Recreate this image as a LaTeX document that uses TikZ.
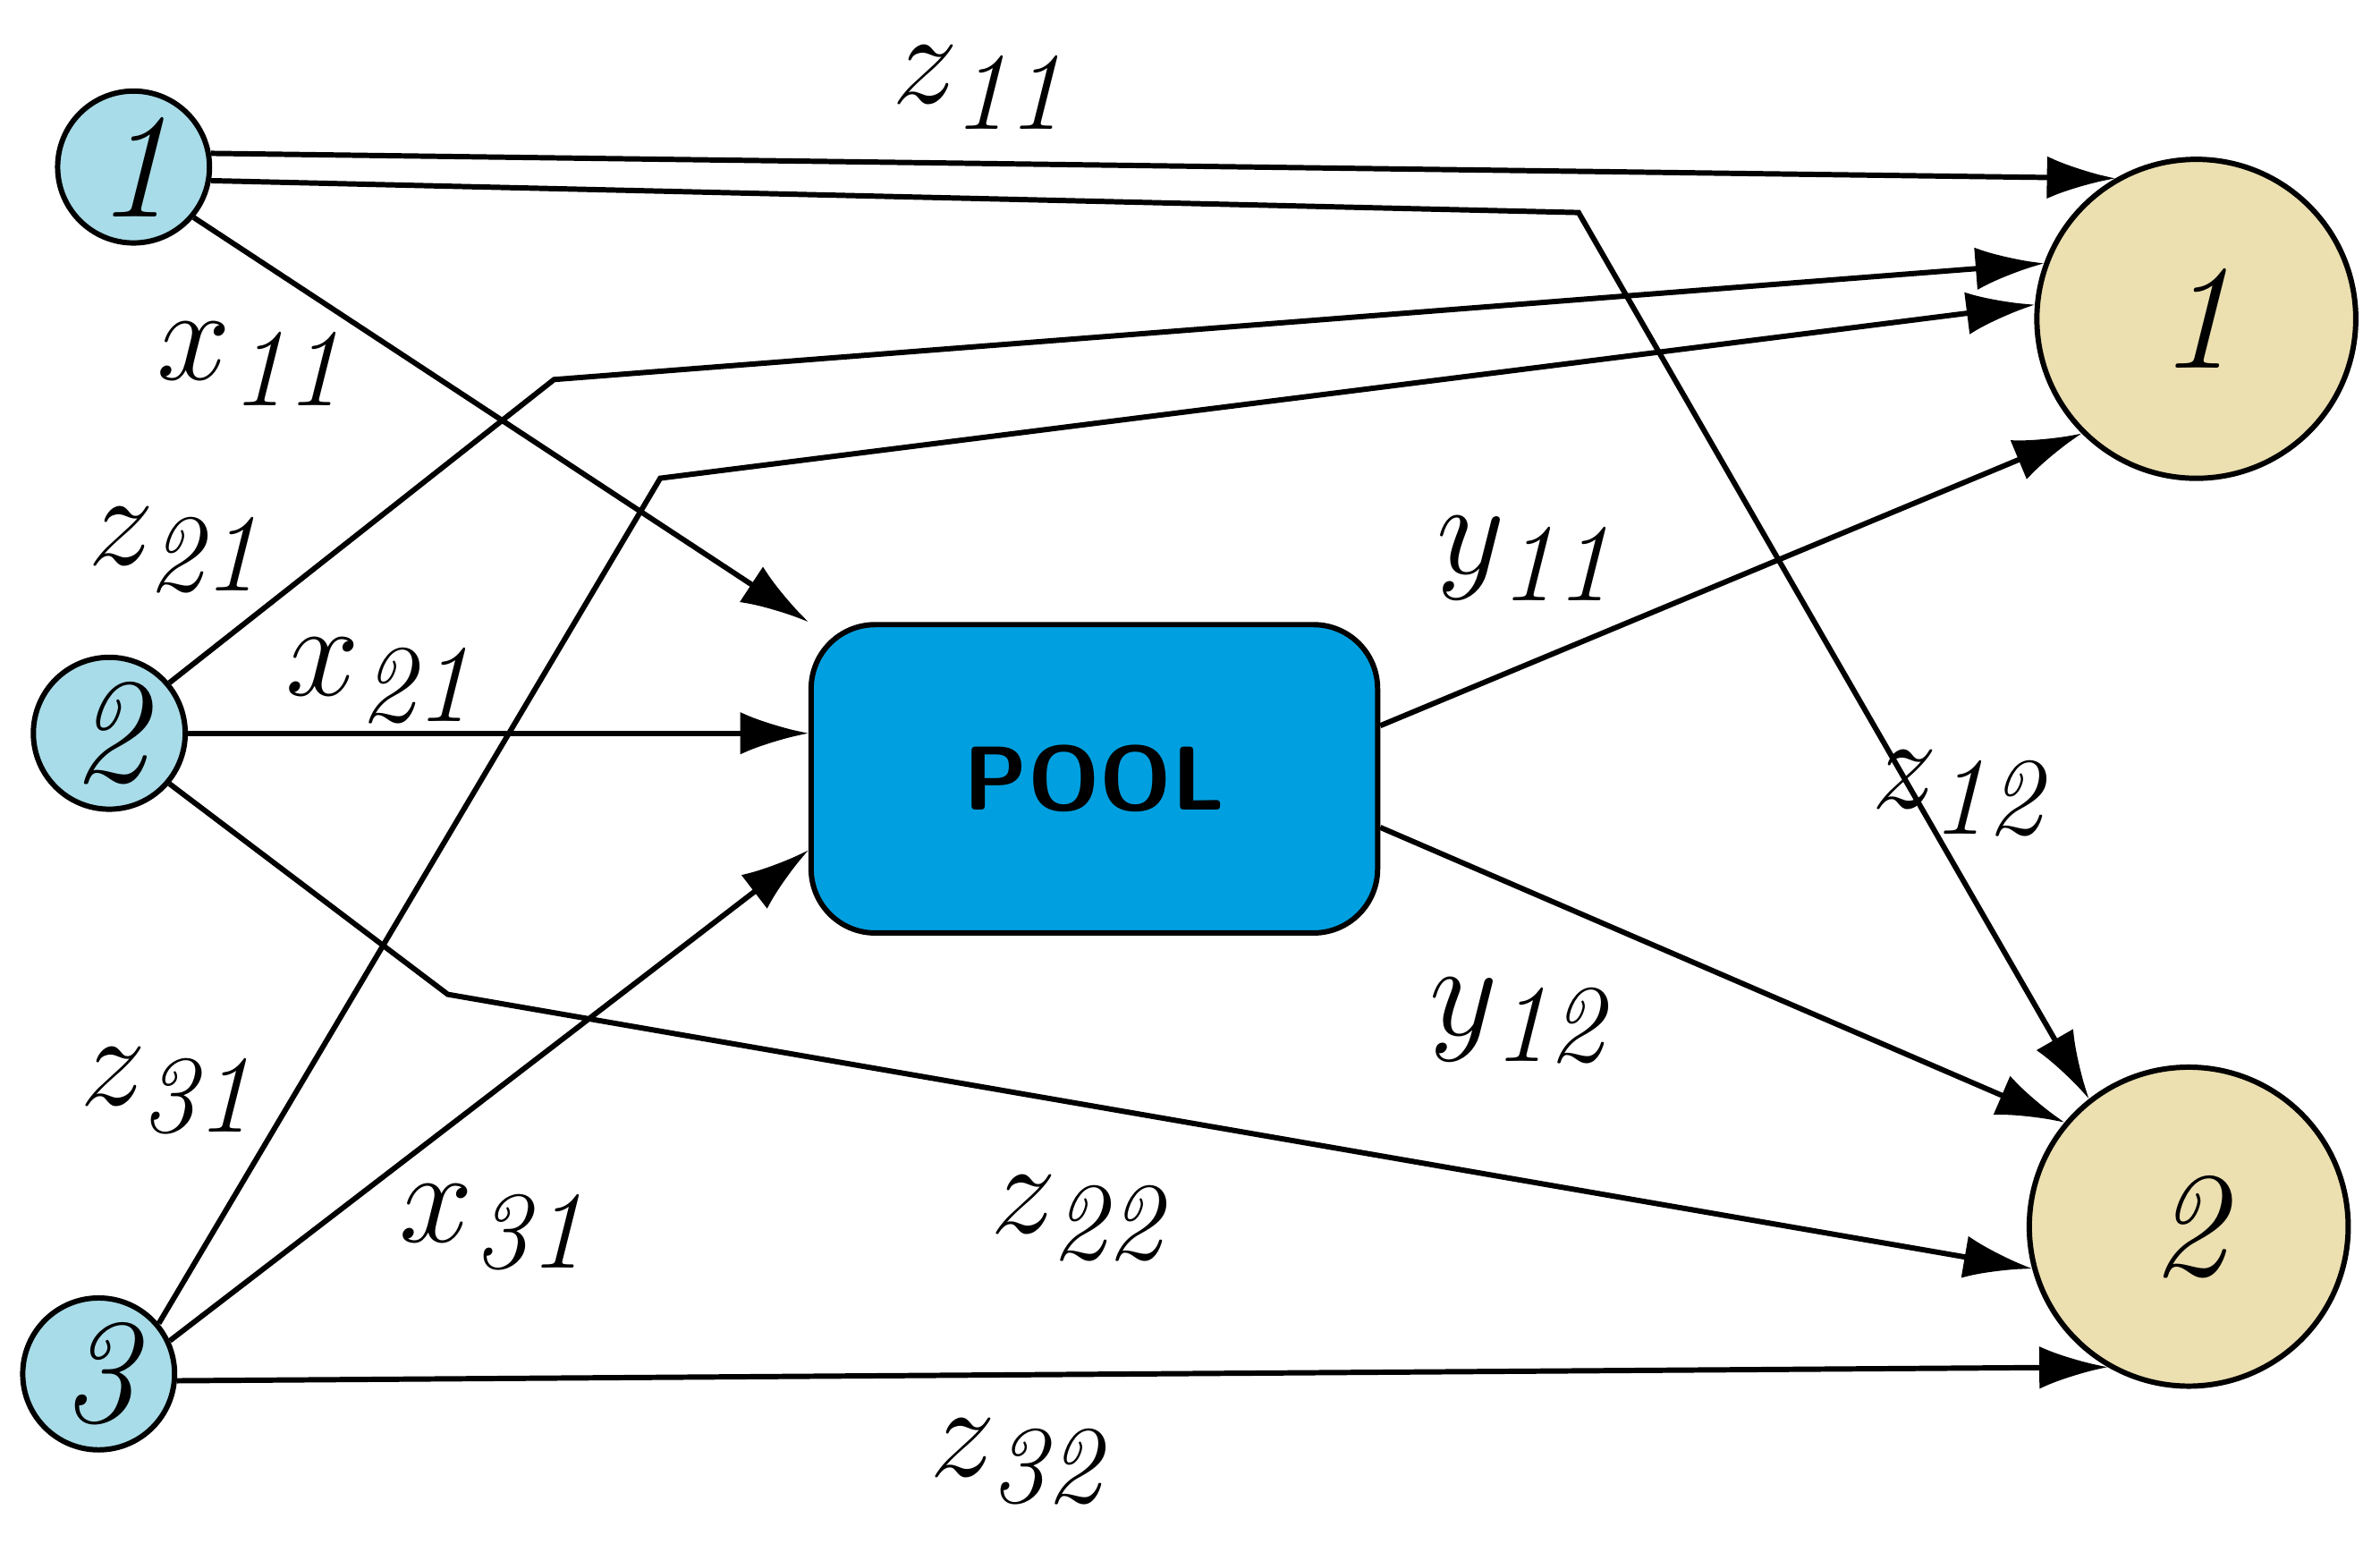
\documentclass[tikz,border=0pt]{standalone}
\usetikzlibrary{arrows.meta}
\definecolor{poolblue}{HTML}{00A0E0}
\definecolor{srcblue}{HTML}{A8DCE8}
\definecolor{dstsand}{HTML}{ECDFB0}
\begin{document}
\begin{tikzpicture}[x=0.01cm,y=-0.01cm,
    src/.style={circle, draw, line width=1pt, fill=srcblue, inner sep=0pt, minimum size=1cm, font=\fontsize{28}{28}\selectfont\itshape},
    dst/.style={circle, draw, line width=1pt, fill=dstsand, inner sep=0pt, minimum size=2.1cm, font=\fontsize{28}{28}\selectfont\itshape},
    flow/.style={line width=1pt, -{Latex[length=4.5mm,width=2.8mm]}},
    lab/.style={font=\fontsize{32}{32}\selectfont}]
    \useasboundingbox (0,0) rectangle (1568,1017);

    % sources
    \node[src] (s1) at (88,110) {1};
    \node[src] (s2) at (72,483) {2};
    \node[src] (s3) at (65,905) {3};

    % destinations
    \node[dst] (d1) at (1447,210) {1};
    \node[dst] (d2) at (1442,808) {2};

    % pool
    \node[draw, line width=1pt, rounded corners=12pt, fill=poolblue, minimum width=3.73cm, minimum height=2.03cm,
          font=\fontsize{17}{17}\sffamily\bfseries] (pool) at (721,513) {POOL};

    % bend points
    \coordinate (b12) at (1040,140);
    \coordinate (b21) at (365,250);
    \coordinate (b31) at (435,315);
    \coordinate (b22) at (295,655);

    % direct shipments
    \draw[flow] (s1.10) -- (d1.120);
    \draw[flow] (s1.-10) -- (b12) -- (d2.128);
    \draw[flow] (s2.40) -- (b21) -- (d1.160);
    \draw[flow] (s3.40) -- (b31) -- (d1.175);
    \draw[flow] (s2.-40) -- (b22) -- (d2.195);
    \draw[flow] (s3.-5) -- (d2.240);

    % via pool
    \draw[flow] (s1.-40) -- (pool.north west);
    \draw[flow] (s2.0) -- (pool.west |- s2);
    \draw[flow] (s3.25) -- (pool.west |- 0,560);
    \draw[flow] (pool.east |- 0,478) -- (d1.225);
    \draw[flow] (pool.east |- 0,545) -- (d2.140);

    % labels
    \node[lab] at (650,58) {$z_{\mathit{11}}$};
    \node[lab] at (1295,522) {$z_{\mathit{12}}$};
    \node[lab] at (170,240) {$x_{\mathit{11}}$};
    \node[lab] at (120,362) {$z_{\mathit{21}}$};
    \node[lab] at (255,448) {$x_{\mathit{21}}$};
    \node[lab] at (115,718) {$z_{\mathit{31}}$};
    \node[lab] at (330,808) {$x_{\mathit{31}}$};
    \node[lab] at (715,802) {$z_{\mathit{22}}$};
    \node[lab] at (1010,368) {$y_{\mathit{11}}$};
    \node[lab] at (1005,672) {$y_{\mathit{12}}$};
    \node[lab] at (675,962) {$z_{\mathit{32}}$};
\end{tikzpicture}
\end{document}
